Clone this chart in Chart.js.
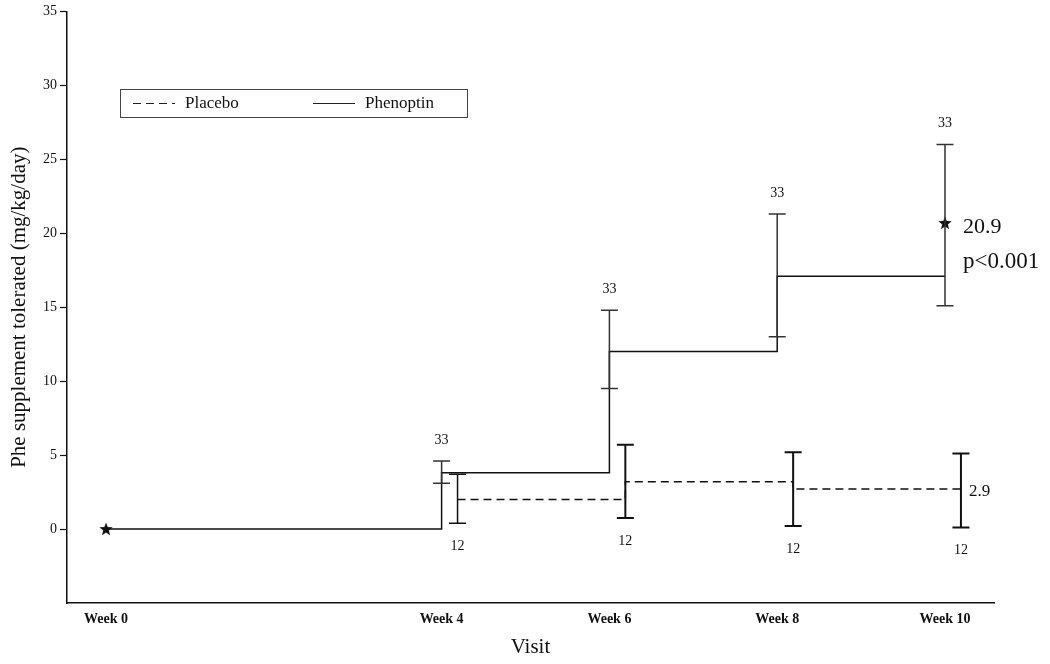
<!DOCTYPE html>
<html>
<head>
<meta charset="utf-8">
<script src="https://cdn.jsdelivr.net/npm/chart.js@4/dist/chart.umd.min.js"></script>
<style>
  html, body { margin: 0; padding: 0; background: #fff; }
  #chart { display: block; }
</style>
</head>
<body>
<canvas id="chart" width="1050" height="664"></canvas>
<script>
// visits (weeks) and tick labels
const weeks = [0, 4, 6, 8, 10];
const weekLabels = ['Week 0', 'Week 4', 'Week 6', 'Week 8', 'Week 10'];
const yTicks = [0, 5, 10, 15, 20, 25, 30, 35];

// Phenoptin mean (stepped solid line)
const phenoptinMean = [0, 3.8, 12.0, 17.1, 17.1];
// Placebo mean (stepped dashed line), from week 4 on
const placeboWeeks = [4, 6, 8, 10];
const placeboMean = [2.0, 3.2, 2.7, 2.7];

// error bars at weeks 4..10
const barWeeks = [4, 6, 8, 10];
const phenoptinLow = [3.1, 9.5, 13.0, 15.1];
const phenoptinHigh = [4.6, 14.8, 21.3, 26.0];
const placeboLow = [0.4, 0.75, 0.2, 0.1];
const placeboHigh = [3.7, 5.7, 5.2, 5.1];
const phenoptinN = [33, 33, 33, 33];
const placeboN = [12, 12, 12, 12];

// star markers
const starWeeks = [0, 10];
const starValues = [0, 20.7];
const phenoptinFinal = '20.9';
const pValue = 'p<0.001';
const placeboFinal = '2.9';

const SERIF = '"Liberation Serif", "Times New Roman", serif';
const placeboDodge = 0.19; // placebo drawn just right of Phenoptin

function starImage(size) {
    const c = document.createElement('canvas');
    c.width = size; c.height = size;
    const g = c.getContext('2d');
    const cx = size / 2, cy = size / 2 + 0.5, R = size / 2, r = R * 0.42;
    g.beginPath();
    for (let i = 0; i < 10; i++) {
        const a = -Math.PI / 2 + i * Math.PI / 5;
        const rad = i % 2 === 0 ? R : r;
        g.lineTo(cx + rad * Math.cos(a), cy + rad * Math.sin(a));
    }
    g.closePath();
    g.fillStyle = '#111';
    g.fill();
    return c;
}

const errorBars = {
    id: 'errorBars',
    afterDatasetsDraw(chart) {
        const { ctx, scales: { x, y } } = chart;
        const cap = 8.5;
        ctx.save();
        ctx.font = '14px ' + SERIF;
        ctx.textAlign = 'center';
        ctx.textBaseline = 'middle';

        const drawBar = (px, lo, hi, color, width) => {
            const pl = y.getPixelForValue(lo), ph = y.getPixelForValue(hi);
            ctx.strokeStyle = color;
            ctx.lineWidth = width;
            ctx.setLineDash([]);
            ctx.beginPath();
            ctx.moveTo(px, pl); ctx.lineTo(px, ph);
            ctx.moveTo(px - cap, pl); ctx.lineTo(px + cap, pl);
            ctx.moveTo(px - cap, ph); ctx.lineTo(px + cap, ph);
            ctx.stroke();
        };

        barWeeks.forEach((w, i) => {
            const xp = x.getPixelForValue(w);
            drawBar(xp, phenoptinLow[i], phenoptinHigh[i], '#333', 1.5);
            ctx.fillStyle = '#111';
            ctx.fillText(String(phenoptinN[i]), xp, y.getPixelForValue(phenoptinHigh[i]) - 21);

            const xq = x.getPixelForValue(w + placeboDodge);
            drawBar(xq, placeboLow[i], placeboHigh[i], '#111', i === 0 ? 1.5 : 2);
            ctx.fillText(String(placeboN[i]), xq, y.getPixelForValue(placeboLow[i]) + 23);
        });

        // end values and p-value
        const sx = x.getPixelForValue(starWeeks[1]);
        const sy = y.getPixelForValue(starValues[1]);
        ctx.textAlign = 'left';
        ctx.font = '22px ' + SERIF;
        ctx.fillText(phenoptinFinal, sx + 18, sy + 4);
        ctx.font = '23px ' + SERIF;
        ctx.fillText(pValue, sx + 18, sy + 39);

        const last = placeboMean.length - 1;
        ctx.font = '17px ' + SERIF;
        ctx.fillText(placeboFinal,
            x.getPixelForValue(placeboWeeks[last] + placeboDodge) + 8,
            y.getPixelForValue(placeboMean[last]) + 2);
        ctx.restore();
    }
};

const boxLegend = {
    id: 'boxLegend',
    afterDraw(chart) {
        const { ctx } = chart;
        const left = 120.5, top = 89.5, w = 347, h = 28, mid = top + h / 2;
        ctx.save();
        ctx.strokeStyle = '#444';
        ctx.lineWidth = 1;
        ctx.setLineDash([]);
        ctx.strokeRect(left, top, w, h);
        ctx.font = '17px ' + SERIF;
        ctx.fillStyle = '#111';
        ctx.textBaseline = 'middle';

        const items = [chart.data.datasets[1], chart.data.datasets[0]];
        const starts = [133, 313];
        items.forEach((ds, i) => {
            ctx.strokeStyle = '#222';
            ctx.lineWidth = 1.2;
            ctx.setLineDash(ds.borderDash || []);
            ctx.beginPath();
            ctx.moveTo(starts[i], mid);
            ctx.lineTo(starts[i] + 42, mid);
            ctx.stroke();
            ctx.fillText(ds.label, starts[i] + 52, mid);
        });
        ctx.restore();
    }
};

new Chart(document.getElementById('chart'), {
    type: 'line',
    data: {
        datasets: [
            {
                label: 'Phenoptin',
                data: weeks.map((w, i) => ({ x: w, y: phenoptinMean[i] })),
                borderColor: '#111',
                borderWidth: 1.5,
                stepped: true,
                pointRadius: 0,
                fill: false
            },
            {
                label: 'Placebo',
                data: placeboWeeks.map((w, i) => ({ x: w + placeboDodge, y: placeboMean[i] })),
                borderColor: '#111',
                borderWidth: 1.5,
                borderDash: [8, 5],
                stepped: true,
                pointRadius: 0,
                fill: false
            },
            {
                label: 'Mean',
                data: starWeeks.map((w, i) => ({ x: w, y: starValues[i] })),
                showLine: false,
                pointStyle: starImage(14),
                pointRadius: 7
            }
        ]
    },
    options: {
        responsive: false,
        animation: false,
        layout: { padding: { left: 0, top: 10, right: 56, bottom: 0 } },
        plugins: {
            legend: { display: false },
            tooltip: { enabled: false }
        },
        scales: {
            x: {
                type: 'linear',
                min: -0.465,
                max: 10.584,
                afterBuildTicks: scale => { scale.ticks = weeks.map(v => ({ value: v })); },
                afterFit: scale => { scale.height = 61; },
                grid: { display: false, drawTicks: false },
                border: { display: true, color: '#111', width: 1.5 },
                ticks: {
                    autoSkip: false,
                    maxRotation: 0,
                    padding: 8,
                    color: '#111',
                    font: { family: SERIF, size: 14, weight: 'bold' },
                    callback: v => weekLabels[weeks.indexOf(v)]
                },
                title: {
                    display: true,
                    text: 'Visit',
                    color: '#111',
                    font: { family: SERIF, size: 21 },
                    padding: { top: 0, bottom: 4 }
                }
            },
            y: {
                min: -5,
                max: 35,
                afterBuildTicks: scale => { scale.ticks = yTicks.map(v => ({ value: v })); },
                afterFit: scale => { scale.width = 67; },
                grid: {
                    drawOnChartArea: false,
                    drawTicks: true,
                    tickLength: 7,
                    tickColor: '#111',
                    tickWidth: 1.2
                },
                border: { display: true, color: '#111', width: 1.5 },
                ticks: {
                    padding: 3,
                    color: '#111',
                    font: { family: SERIF, size: 14 }
                },
                title: {
                    display: true,
                    text: 'Phe supplement tolerated (mg/kg/day)',
                    color: '#111',
                    font: { family: SERIF, size: 21 },
                    padding: { top: 7, bottom: 0 }
                }
            }
        }
    },
    plugins: [errorBars, boxLegend]
});
</script>
</body>
</html>
